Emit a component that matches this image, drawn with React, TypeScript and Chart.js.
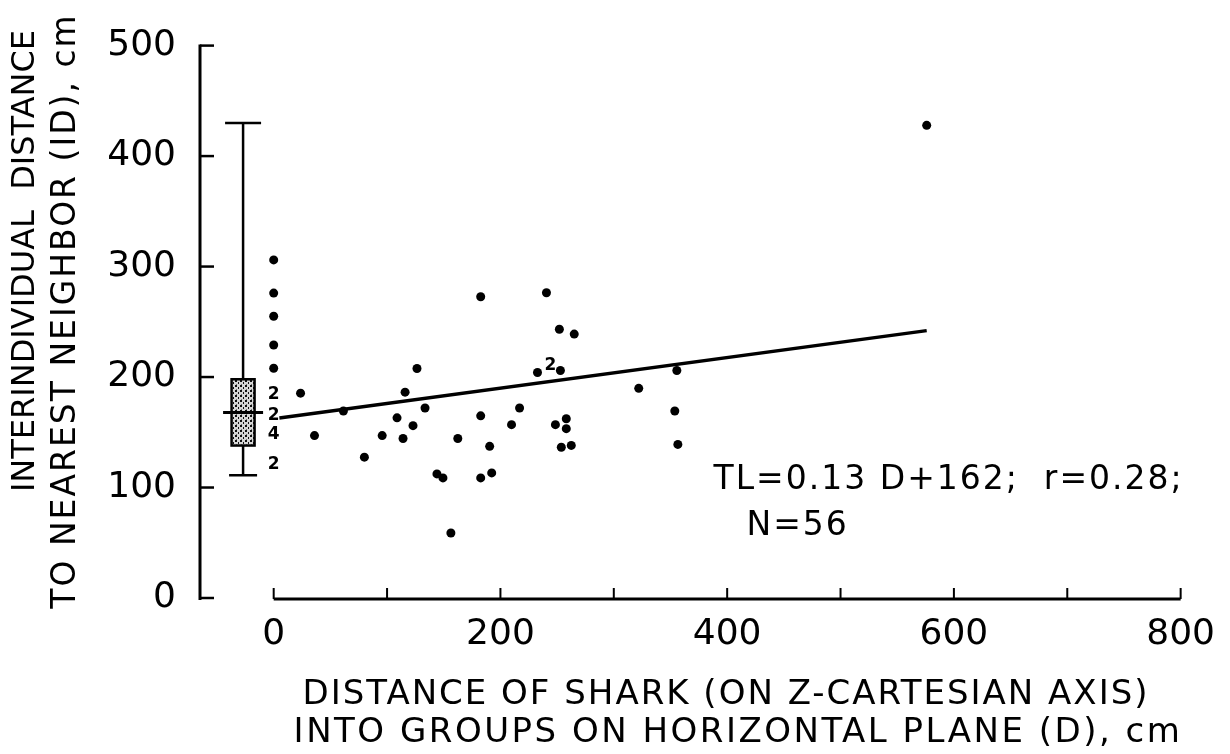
import React, { useEffect, useRef } from 'react';
import { Chart, registerables } from 'chart.js';

Chart.register(...registerables);

// ---- data ----
const zeroColumnY = [306, 276, 255, 229, 208];
const dotX = [23.7, 36, 61.5, 80, 95.7, 108.8, 114.1, 115.9, 122.9, 126.4, 133.5, 144, 149.3, 162.4, 182.6, 240.6, 252, 265.1, 232.7, 252.9, 322, 182.6, 216.9, 209.8, 190.5, 248.5, 258.1, 258.1, 253.7, 262.5, 182.6, 192.3, 355.6, 353.8, 356.5, 576, 156.3];
const dotY = [185.4, 147, 169.3, 127.5, 147, 163.1, 144.4, 186.3, 156, 207.7, 172, 112.3, 108.7, 144.4, 272.7, 276.3, 243.3, 238.9, 204.1, 205.9, 189.8, 164.9, 172, 156.9, 137.3, 156.9, 162.2, 153.3, 136.4, 138.1, 108.7, 113.2, 205.9, 169.3, 139, 427.8, 58.8];
const countLabelX = [0, 0, 0, 0, 244];
const countLabelY = [184, 165, 148, 121, 210];
const countLabelText = ['2', '2', '4', '2', '2'];
const fitX = [5, 576];
const fitY = [163, 242];
const boxX = -27;
const boxStats = [111, 138, 168, 198, 430]; // low whisker, q1, median, q3, high whisker
const annotationLines = ['TL=0.13 D+162;  r=0.28;', 'N=56'];
const annotationX = [388, 417];
const annotationY = [99, 57];
const xTitleLines = ['DISTANCE OF SHARK (ON Z-CARTESIAN AXIS)', 'INTO GROUPS ON HORIZONTAL PLANE (D), cm'];
const yTitleLines = ['INTERINDIVIDUAL  DISTANCE', 'TO NEAREST NEIGHBOR (ID), cm'];

const FONT = '"DejaVu Sans", "Liberation Sans", sans-serif';

function makePattern(ctx: CanvasRenderingContext2D): CanvasPattern | string {
  const c = document.createElement('canvas');
  c.width = 5;
  c.height = 5;
  const p = c.getContext('2d');
  if (!p) return '#aaa';
  p.fillStyle = '#d6d6d6';
  p.fillRect(0, 0, 5, 5);
  p.fillStyle = '#111';
  p.fillRect(0, 0, 2, 2);
  p.fillRect(3, 2, 1, 2);
  p.fillStyle = '#777';
  p.fillRect(1, 4, 1, 1);
  return ctx.createPattern(c, 'repeat') || '#aaa';
}

function setSpacing(ctx: any, v: string) {
  if ('letterSpacing' in ctx) ctx.letterSpacing = v;
}

const drawPlugin = {
  id: 'referenceDecorations',
  afterDraw(chart: any) {
    const { ctx, chartArea, scales } = chart;
    const xs = scales.x;
    const ys = scales.y;
    ctx.save();
    ctx.strokeStyle = '#000';
    ctx.fillStyle = '#000';
    ctx.lineCap = 'butt';

    // y axis
    const ax = chartArea.left;
    ctx.lineWidth = 3;
    ctx.beginPath();
    ctx.moveTo(ax, ys.getPixelForValue(ys.max) - 1);
    ctx.lineTo(ax, ys.getPixelForValue(0) + 2);
    ctx.stroke();
    ctx.lineWidth = 2.5;
    ys.ticks.forEach((t: any) => {
      const py = ys.getPixelForValue(t.value);
      ctx.beginPath();
      ctx.moveTo(ax, py);
      ctx.lineTo(ax + 14, py);
      ctx.stroke();
    });

    // x axis
    const ay = ys.getPixelForValue(0) + 1;
    ctx.lineWidth = 3;
    ctx.beginPath();
    ctx.moveTo(xs.getPixelForValue(0), ay);
    ctx.lineTo(xs.getPixelForValue(xs.max), ay);
    ctx.stroke();
    ctx.lineWidth = 2;
    xs.ticks.forEach((t: any) => {
      const px = xs.getPixelForValue(t.value);
      ctx.beginPath();
      ctx.moveTo(px, ay);
      ctx.lineTo(px, ay - 11);
      ctx.stroke();
    });

    // box plot
    const bx = xs.getPixelForValue(boxX);
    const [lo, q1, med, q3, hi] = boxStats.map((v) => ys.getPixelForValue(v));
    ctx.lineWidth = 2.5;
    ctx.beginPath();
    ctx.moveTo(bx, hi);
    ctx.lineTo(bx, q3);
    ctx.moveTo(bx, q1);
    ctx.lineTo(bx, lo);
    ctx.moveTo(bx - 18, hi);
    ctx.lineTo(bx + 18, hi);
    ctx.moveTo(bx - 14, lo);
    ctx.lineTo(bx + 14, lo);
    ctx.stroke();
    ctx.fillStyle = makePattern(ctx);
    ctx.fillRect(bx - 11.5, q3, 23, q1 - q3);
    ctx.strokeRect(bx - 11.5, q3, 23, q1 - q3);
    ctx.lineWidth = 3;
    ctx.beginPath();
    ctx.moveTo(bx - 20, med);
    ctx.lineTo(bx + 20, med);
    ctx.stroke();

    // count labels
    ctx.fillStyle = '#000';
    ctx.font = `bold 17px ${FONT}`;
    ctx.textAlign = 'center';
    ctx.textBaseline = 'middle';
    countLabelText.forEach((s, i) => {
      ctx.fillText(s, xs.getPixelForValue(countLabelX[i]), ys.getPixelForValue(countLabelY[i]));
    });

    // annotation
    ctx.font = `33px ${FONT}`;
    setSpacing(ctx, '2px');
    ctx.textAlign = 'left';
    ctx.textBaseline = 'alphabetic';
    annotationLines.forEach((s, i) => {
      ctx.fillText(s, xs.getPixelForValue(annotationX[i]), ys.getPixelForValue(annotationY[i]));
    });

    // x title
    ctx.font = `34px ${FONT}`;
    ctx.textAlign = 'center';
    ctx.textBaseline = 'middle';
    setSpacing(ctx, '2px');
    ctx.fillText(xTitleLines[0], 726, 695);
    setSpacing(ctx, '2.5px');
    ctx.fillText(xTitleLines[1], 738, 733);

    // y title
    ctx.font = `32px ${FONT}`;
    setSpacing(ctx, '0px');
    ctx.save();
    ctx.translate(26, 261);
    ctx.rotate(-Math.PI / 2);
    ctx.fillText(yTitleLines[0], 0, 0);
    ctx.restore();
    ctx.font = `33px ${FONT}`;
    setSpacing(ctx, '2px');
    ctx.save();
    ctx.translate(66, 311);
    ctx.rotate(-Math.PI / 2);
    ctx.fillText(yTitleLines[1], 0, 0);
    ctx.restore();
    setSpacing(ctx, '0px');

    ctx.restore();
  },
};

export default function App() {
  const ref = useRef<HTMLCanvasElement | null>(null);
  useEffect(() => {
    if (!ref.current) return;
    const points = [
      ...zeroColumnY.map((y) => ({ x: 0, y })),
      ...dotX.map((x, i) => ({ x, y: dotY[i] })),
    ];
    const chart = new Chart(ref.current, {
      type: 'scatter',
      data: {
        datasets: [
          {
            type: 'scatter',
            data: points,
            pointRadius: 4.5,
            pointBackgroundColor: '#000',
            pointBorderColor: '#000',
            pointBorderWidth: 0,
          } as any,
          {
            type: 'line',
            data: fitX.map((x, i) => ({ x, y: fitY[i] })),
            borderColor: '#000',
            borderWidth: 3.5,
            pointRadius: 0,
            fill: false,
          } as any,
        ],
      },
      options: {
        responsive: false,
        devicePixelRatio: 1,
        animation: false,
        layout: { padding: { left: 0, right: 45, top: 37, bottom: 0 } },
        plugins: { legend: { display: false }, tooltip: { enabled: false }, title: { display: false } },
        scales: {
          x: {
            type: 'linear',
            min: -65,
            max: 800,
            grid: { display: false, drawTicks: false },
            border: { display: false },
            ticks: {
              stepSize: 100,
              includeBounds: false,
              autoSkip: false,
              maxRotation: 0,
              padding: 15,
              color: '#000',
              font: { family: FONT, size: 36 },
              callback: (v: any) => (Number(v) % 200 === 0 ? String(v) : ''),
            },
            afterFit: (s: any) => {
              s.height = 156;
            },
          } as any,
          y: {
            type: 'linear',
            min: 0,
            max: 500,
            grid: { display: false, drawTicks: false },
            border: { display: false },
            ticks: {
              stepSize: 100,
              padding: 24,
              color: '#000',
              font: { family: FONT, size: 36 },
            },
            afterFit: (s: any) => {
              s.width = 200;
            },
          } as any,
        },
      },
      plugins: [drawPlugin],
    });
    return () => chart.destroy();
  }, []);
  return (
    <div style={{ position: 'fixed', left: 0, top: 0, width: 1230, height: 754, background: '#fff' }}>
      <canvas ref={ref} width={1230} height={754} style={{ display: 'block' }} />
    </div>
  );
}
